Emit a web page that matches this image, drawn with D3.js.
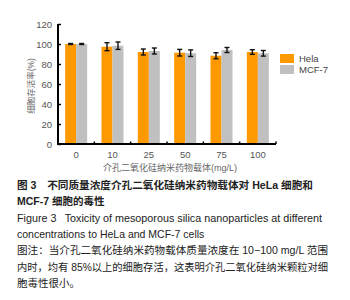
<!DOCTYPE html>
<html>
<head>
<meta charset="utf-8">
<script src="https://cdn.jsdelivr.net/npm/d3@7"></script>
<style>
  body { margin: 0; background: #fff; }
  text { font-family: "Liberation Sans", Arial, sans-serif; }
  .cjk { font-family: "Liberation Sans", "Noto Sans CJK SC", sans-serif; }
</style>
</head>
<body>
<div id="chart"></div>
<script>
const concentrations = ["0", "10", "25", "50", "75", "100"];
const seriesNames = ["Hela", "MCF-7"];
const helaValues = [100, 97.3, 92, 91.3, 88.3, 92];
const helaErrors = [0.5, 4, 3, 3.3, 3, 2.3];
const mcfValues = [100, 98.3, 93, 90.8, 94, 90.7];
const mcfErrors = [0.5, 3.7, 3, 3.3, 2.5, 2.8];
const yTicks = [0, 20, 40, 60, 80, 100, 120];
const colors = ["#ff9900", "#c0c0c0"];

const captionLines = [
  { t: "图 3\u3000不同质量浓度介孔二氧化硅纳米药物载体对 HeLa 细胞和", bold: true, w: 296 },
  { t: "MCF-7 细胞的毒性", bold: true },
  { t: "Figure 3\u2002 Toxicity of mesoporous silica nanoparticles at different", bold: false, w: 305 },
  { t: "concentrations to HeLa and MCF-7 cells", bold: false },
  { t: "图注：当介孔二氧化硅纳米药物载体质量浓度在 10−100 mg/L 范围", bold: false, w: 311 },
  { t: "内时，均有 85%以上的细胞存活，这表明介孔二氧化硅纳米颗粒对细", bold: false, w: 311 },
  { t: "胞毒性很小。", bold: false }
];

const W = 350, H = 300;
const svg = d3.select("#chart").append("svg")
    .attr("width", W)
    .attr("height", H)
    .style("background", "#fff");

const x0 = d3.scaleBand().domain(concentrations).range([58, 276]);
const groupW = 22;
const x1 = d3.scaleBand().domain(seriesNames).range([0, groupW]);
const y = d3.scaleLinear().domain([0, 120]).range([144, 24]);

const rows = concentrations.map((c, i) => ({
  c,
  bars: [
    { s: seriesNames[0], v: helaValues[i], e: helaErrors[i] },
    { s: seriesNames[1], v: mcfValues[i], e: mcfErrors[i] }
  ]
}));

const groups = svg.selectAll(".grp")
  .data(rows)
  .enter().append("g")
  .attr("class", "grp")
  .attr("transform", d => `translate(${x0(d.c) + (x0.bandwidth() - groupW) / 2},0)`);

groups.selectAll("rect")
  .data(d => d.bars)
  .enter().append("rect")
  .attr("x", d => x1(d.s))
  .attr("y", d => y(d.v))
  .attr("width", x1.bandwidth())
  .attr("height", d => y(0) - y(d.v))
  .attr("fill", (d, i) => colors[i]);

// error bars
const eb = groups.selectAll(".err")
  .data(d => d.bars)
  .enter().append("g")
  .attr("class", "err")
  .attr("stroke", "#111")
  .attr("stroke-width", 1.4);
eb.append("line")
  .attr("x1", d => x1(d.s) + x1.bandwidth() / 2)
  .attr("x2", d => x1(d.s) + x1.bandwidth() / 2)
  .attr("y1", d => y(d.v + d.e))
  .attr("y2", d => y(d.v - d.e));
eb.append("line")
  .attr("x1", d => x1(d.s) + x1.bandwidth() / 2 - 2.5)
  .attr("x2", d => x1(d.s) + x1.bandwidth() / 2 + 2.5)
  .attr("y1", d => y(d.v + d.e))
  .attr("y2", d => y(d.v + d.e));
eb.append("line")
  .attr("x1", d => x1(d.s) + x1.bandwidth() / 2 - 2.5)
  .attr("x2", d => x1(d.s) + x1.bandwidth() / 2 + 2.5)
  .attr("y1", d => y(d.v - d.e))
  .attr("y2", d => y(d.v - d.e));

// y axis
const yAxis = svg.append("g")
  .attr("transform", "translate(58,0)")
  .call(d3.axisLeft(y).tickValues(yTicks).tickSize(-3).tickPadding(6));
yAxis.select(".domain").attr("stroke", "#000").attr("stroke-width", 2)
  .attr("d", `M0,${y(0)}V${y(120)}`);
yAxis.selectAll(".tick line").attr("stroke", "#000").attr("stroke-width", 1.5);
yAxis.selectAll(".tick text").attr("fill", "#555").style("font-size", "9.5px");

// x axis
const xAxis = svg.append("g")
  .attr("transform", `translate(0,${y(0)})`)
  .call(d3.axisBottom(x0).tickSize(0).tickPadding(7));
xAxis.select(".domain").attr("stroke", "#000").attr("stroke-width", 2)
  .attr("d", `M57,0H276`);
xAxis.selectAll(".tick text").attr("fill", "#555").style("font-size", "9.5px");
xAxis.selectAll(".bound")
  .data(concentrations.slice(1).concat(["end"]))
  .enter().append("line")
  .attr("class", "bound")
  .attr("x1", d => d === "end" ? 276 : x0(d))
  .attr("x2", d => d === "end" ? 276 : x0(d))
  .attr("y1", 0).attr("y2", -2.5)
  .attr("stroke", "#000").attr("stroke-width", 1.5);

// axis titles
svg.append("text")
  .attr("class", "cjk")
  .attr("transform", "translate(34,86) rotate(-90)")
  .attr("text-anchor", "middle")
  .attr("fill", "#666")
  .style("font-size", "8.5px")
  .text("细胞存活率(%)");

svg.append("text")
  .attr("class", "cjk")
  .attr("x", 170).attr("y", 171)
  .attr("text-anchor", "middle")
  .attr("fill", "#666")
  .style("font-size", "9px")
  .text("介孔二氧化硅纳米药物载体(mg/L)");

// legend
const legend = svg.selectAll(".leg")
  .data(seriesNames)
  .enter().append("g")
  .attr("class", "leg")
  .attr("transform", (d, i) => `translate(280,${54 + i * 11})`);
legend.append("rect")
  .attr("width", 14).attr("height", 9)
  .attr("fill", (d, i) => colors[i]);
legend.append("text")
  .attr("x", 19).attr("y", 8)
  .attr("fill", "#444")
  .style("font-size", "9.5px")
  .text(d => d);

// caption
svg.selectAll(".cap")
  .data(captionLines)
  .enter().append("text")
  .attr("class", "cap cjk")
  .attr("x", 17)
  .attr("y", (d, i) => 189 + i * 16.3)
  .attr("fill", "#222")
  .style("font-size", "10.5px")
  .style("font-weight", d => d.bold ? "bold" : "normal")
  .attr("textLength", d => d.w || null)
  .attr("lengthAdjust", "spacingAndGlyphs")
  .text(d => d.t);
</script>
</body>
</html>
